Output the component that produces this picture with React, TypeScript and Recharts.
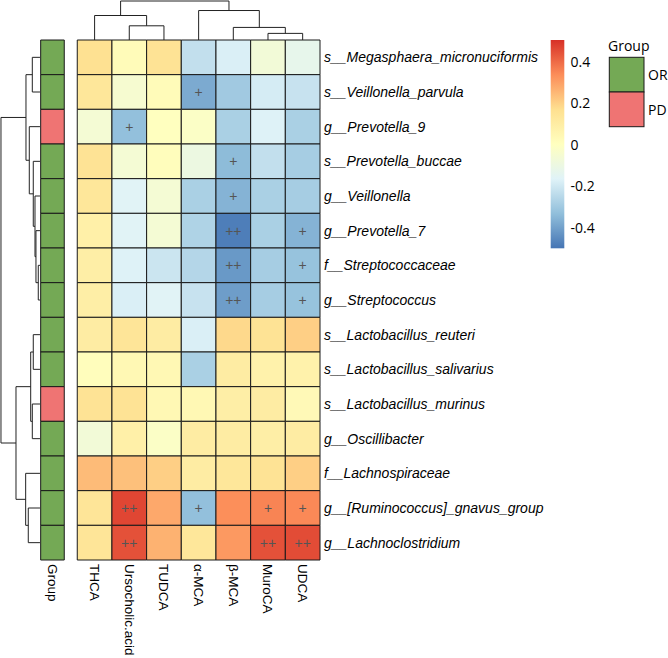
import React from 'react';
import { ScatterChart, Scatter, XAxis, YAxis, ReferenceArea, ReferenceLine } from 'recharts';

// rows of the heatmap (top to bottom)
const taxa = [
  's__Megasphaera_micronuciformis',
  's__Veillonella_parvula',
  'g__Prevotella_9',
  's__Prevotella_buccae',
  'g__Veillonella',
  'g__Prevotella_7',
  'f__Streptococcaceae',
  'g__Streptococcus',
  's__Lactobacillus_reuteri',
  's__Lactobacillus_salivarius',
  's__Lactobacillus_murinus',
  'g__Oscillibacter',
  'f__Lachnospiraceae',
  'g__[Ruminococcus]_gnavus_group',
  'g__Lachnoclostridium',
];

const acids = ['THCA', 'Ursocholic.acid', 'TUDCA', 'α-MCA', 'β-MCA', 'MuroCA', 'UDCA'];

const groups = ['OR', 'OR', 'PD', 'OR', 'OR', 'OR', 'OR', 'OR', 'OR', 'OR', 'PD', 'OR', 'OR', 'OR', 'OR'];

// correlation, one list per taxon, in acid order
const corr = [
  [0.16, 0.02, 0.15, -0.23, -0.18, -0.07, -0.13],
  [0.13, -0.05, 0.02, -0.38, -0.3, -0.19, -0.22],
  [-0.06, -0.33, 0.0, -0.02, -0.28, -0.17, -0.28],
  [0.15, -0.06, 0.01, -0.1, -0.34, -0.23, -0.29],
  [0.13, -0.16, -0.06, -0.28, -0.36, -0.28, -0.29],
  [0.08, -0.16, -0.06, -0.27, -0.48, -0.28, -0.36],
  [0.09, -0.17, -0.21, -0.26, -0.42, -0.29, -0.32],
  [0.09, -0.18, -0.16, -0.22, -0.41, -0.29, -0.32],
  [0.1, 0.14, 0.1, -0.18, 0.18, 0.15, 0.2],
  [0.01, 0.04, 0.04, -0.28, 0.1, 0.07, 0.07],
  [0.15, 0.15, 0.04, 0.04, 0.09, 0.1, 0.03],
  [-0.07, 0.08, -0.02, 0.1, 0.1, 0.09, 0.1],
  [0.24, 0.23, 0.2, 0.1, 0.13, 0.15, 0.2],
  [0.14, 0.46, 0.28, -0.33, 0.33, 0.35, 0.34],
  [0.14, 0.44, 0.26, 0.13, 0.31, 0.44, 0.45],
];

const marks = [
  ['', '', '', '', '', '', ''],
  ['', '', '', '+', '', '', ''],
  ['', '+', '', '', '', '', ''],
  ['', '', '', '', '+', '', ''],
  ['', '', '', '', '+', '', ''],
  ['', '', '', '', '++', '', '+'],
  ['', '', '', '', '++', '', '+'],
  ['', '', '', '', '++', '', '+'],
  ['', '', '', '', '', '', ''],
  ['', '', '', '', '', '', ''],
  ['', '', '', '', '', '', ''],
  ['', '', '', '', '', '', ''],
  ['', '', '', '', '', '', ''],
  ['', '++', '', '+', '', '+', '+'],
  ['', '++', '', '', '', '++', '++'],
];

// clustering trees: leaf index or [left, right, merge height (root = 1)]
type Tree = number | [Tree, Tree, number];
const acidTree: Tree = [[0, [1, 2, 0.364], 0.628], [3, [4, [5, 6, 0.17], 0.323], 0.756], 1];
const taxaTree: Tree = [
  [[0, 1, 0.197], [2, [3, [4, [5, [6, 7, 0.044], 0.103], 0.128], 0.172], 0.274], 0.359],
  [[[8, 9, 0.172], [10, 11, 0.197], 0.238], [12, [13, 14, 0.3], 0.367], 0.615],
  1,
];

const colorTicks = [0.4, 0.2, 0, -0.2, -0.4];

const PALETTE = ['#4575B4', '#91BFDB', '#E0F3F8', '#FFFFBF', '#FEE090', '#FC8D59', '#D73027'];
const VMIN = -0.5;
const VMAX = 0.5;
const GROUP_COLORS: Record<string, string> = { OR: '#74A955', PD: '#EF7473' };

const hex = (c: string) => [1, 3, 5].map((i) => parseInt(c.slice(i, i + 2), 16));
const colorFor = (v: number) => {
  const t = Math.min(1, Math.max(0, (v - VMIN) / (VMAX - VMIN))) * (PALETTE.length - 1);
  const i = Math.min(PALETTE.length - 2, Math.floor(t));
  const f = t - i;
  const a = hex(PALETTE[i]);
  const b = hex(PALETTE[i + 1]);
  return `rgb(${a.map((x, k) => Math.round(x + (b[k] - x) * f)).join(',')})`;
};

const X_DOMAIN: [number, number] = [-2.228, 7];
const Y_DOMAIN: [number, number] = [-1.154, 15];
const GROUP_X: [number, number] = [-1.055, -0.375];
const LEAF_X = -1.075;
const DEND = 1.125;
const GRID = '#1a1a1a';
const LABEL_FONT = '"Liberation Sans", Arial, sans-serif';
const LEGEND_FONT = '"Open Sans", "Noto Sans", sans-serif';

type Seg = [number, number, number, number]; // pos1, h1, pos2, h2
const layout = (t: Tree, segs: Seg[]): { pos: number; h: number } => {
  if (typeof t === 'number') return { pos: t + 0.5, h: 0 };
  const a = layout(t[0], segs);
  const b = layout(t[1], segs);
  const h = t[2];
  segs.push([a.pos, a.h, a.pos, h], [a.pos, h, b.pos, h], [b.pos, b.h, b.pos, h]);
  return { pos: (a.pos + b.pos) / 2, h };
};

const acidSegs: Seg[] = [];
layout(acidTree, acidSegs);
const taxaSegs: Seg[] = [];
layout(taxaTree, taxaSegs);

const markData = corr.flatMap((row, r) =>
  row.map((_, c) => ({ x: c + 0.5, y: r + 0.5, mark: marks[r][c] })).filter((d) => d.mark)
);

const RowTick = (props: any) => {
  const { x, y, payload } = props;
  return (
    <text x={x} y={y} dy="0.35em" textAnchor="start" fontFamily={LABEL_FONT} fontStyle="italic" fontSize={14} fill="#000">
      {taxa[Math.floor(payload.value)]}
    </text>
  );
};

const ColTick = (props: any) => {
  const { x, y, payload } = props;
  const label = payload.value < 0 ? 'Group' : acids[Math.floor(payload.value)];
  return (
    <text x={x} y={y} dy="0.35em" transform={`rotate(90, ${x}, ${y})`} textAnchor="start" fontFamily={LABEL_FONT} fontSize={13.5} fill="#000">
      {label}
    </text>
  );
};

const MarkShape = (props: any) => (
  <text x={props.cx} y={props.cy} dy="0.35em" textAnchor="middle" fontFamily={LABEL_FONT} fontSize={14} fill="#555">
    {props.payload.mark}
  </text>
);

const Legend = () => {
  const barTop = 40;
  const barBottom = 248.3;
  const zeroY = 145;
  const perUnit = 207.5;
  return (
    <svg width={668} height={658} style={{ position: 'absolute', left: 0, top: 0, pointerEvents: 'none' }}>
      <defs>
        <linearGradient id="cbar" x1="0" y1="1" x2="0" y2="0">
          {PALETTE.map((c, i) => (
            <stop key={c} offset={i / (PALETTE.length - 1)} stopColor={c} />
          ))}
        </linearGradient>
      </defs>
      <rect x={550.7} y={barTop} width={13.6} height={barBottom - barTop} fill="url(#cbar)" />
      {colorTicks.map((v) => (
        <text key={v} x={570.5} y={zeroY - v * perUnit} dy="0.35em" fontFamily={LEGEND_FONT} fontSize={14} fill="#000">
          {v}
        </text>
      ))}
      <text x={608} y={51} fontFamily={LEGEND_FONT} fontSize={14} fill="#000">Group</text>
      {['OR', 'PD'].map((g, i) => (
        <g key={g}>
          <rect x={609.3} y={57.3 + i * 34.7} width={34.7} height={34.7} fill={GROUP_COLORS[g]} stroke={GRID} strokeWidth={1} />
          <text x={648} y={75 + i * 34.7} dy="0.35em" fontFamily={LEGEND_FONT} fontSize={14} fill="#000">{g}</text>
        </g>
      ))}
    </svg>
  );
};

export default function App() {
  return (
    <div style={{ position: 'absolute', left: 0, top: 0, width: 668, height: 658, background: '#fff' }}>
      <ScatterChart width={668} height={658} margin={{ top: 0, right: 8, bottom: 0, left: 0 }}>
        <XAxis
          type="number"
          dataKey="x"
          domain={X_DOMAIN}
          allowDataOverflow
          ticks={[(GROUP_X[0] + GROUP_X[1]) / 2, ...acids.map((_, i) => i + 0.5)]}
          interval={0}
          height={98}
          tickLine={false}
          axisLine={false}
          tickSize={0}
          tickMargin={4}
          tick={<ColTick />}
        />
        <YAxis
          type="number"
          dataKey="y"
          orientation="right"
          width={340}
          domain={Y_DOMAIN}
          allowDataOverflow
          reversed
          ticks={taxa.map((_, i) => i + 0.5)}
          interval={0}
          tickLine={false}
          axisLine={false}
          tickSize={0}
          tickMargin={4}
          tick={<RowTick />}
        />
        {corr.map((row, r) =>
          row.map((v, c) => (
            <ReferenceArea
              key={`c-${r}-${c}`}
              x1={c}
              x2={c + 1}
              y1={r}
              y2={r + 1}
              fill={colorFor(v)}
              fillOpacity={1}
              stroke={GRID}
              strokeWidth={1}
            />
          ))
        )}
        {groups.map((g, r) => (
          <ReferenceArea
            key={`g-${r}`}
            x1={GROUP_X[0]}
            x2={GROUP_X[1]}
            y1={r}
            y2={r + 1}
            fill={GROUP_COLORS[g]}
            fillOpacity={1}
            stroke={GRID}
            strokeWidth={1}
          />
        ))}
        {acidSegs.map(([p1, h1, p2, h2], i) => (
          <ReferenceLine
            key={`a-${i}`}
            segment={[{ x: p1, y: -h1 * DEND }, { x: p2, y: -h2 * DEND }]}
            stroke="#222"
            strokeWidth={1}
          />
        ))}
        {taxaSegs.map(([p1, h1, p2, h2], i) => (
          <ReferenceLine
            key={`t-${i}`}
            segment={[{ x: LEAF_X - h1 * DEND, y: p1 }, { x: LEAF_X - h2 * DEND, y: p2 }]}
            stroke="#222"
            strokeWidth={1}
          />
        ))}
        <Scatter data={markData} shape={<MarkShape />} isAnimationActive={false} />
      </ScatterChart>
      <Legend />
    </div>
  );
}
